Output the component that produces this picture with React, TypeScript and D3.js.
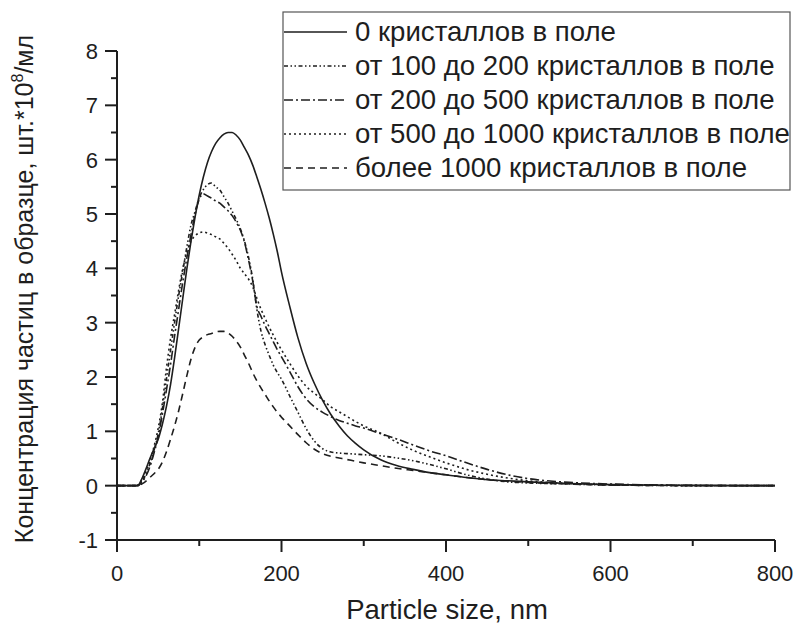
import React from "react";
import * as d3 from "d3";

// Particle size grid (nm)
const SIZES = [0, 20, 25, 30, 35, 40, 45, 50, 55, 60, 65, 70, 75, 80, 85, 90, 95, 100, 105, 110, 115, 120, 125, 130, 135, 140, 145, 150, 155, 160, 165, 170, 175, 180, 185, 190, 195, 200, 210, 220, 230, 240, 250, 260, 270, 280, 290, 300, 320, 340, 360, 380, 400, 425, 450, 475, 500, 550, 600, 650, 700, 800];

// 0 кристаллов в поле
const S_0 = [0, 0, 0, 0.12, 0.3, 0.5, 0.68, 0.85, 1.12, 1.45, 1.85, 2.35, 2.9, 3.45, 4.0, 4.5, 4.95, 5.35, 5.68, 5.95, 6.15, 6.3, 6.4, 6.47, 6.5, 6.5, 6.45, 6.36, 6.22, 6.08, 5.9, 5.68, 5.45, 5.2, 4.93, 4.63, 4.3, 3.93, 3.3, 2.72, 2.25, 1.88, 1.57, 1.31, 1.1, 0.92, 0.78, 0.66, 0.48, 0.37, 0.3, 0.24, 0.2, 0.15, 0.11, 0.09, 0.07, 0.04, 0.02, 0.01, 0.005, 0];
// от 100 до 200
const S_100 = [0, 0, 0, 0.08, 0.2, 0.4, 0.65, 0.95, 1.4, 1.95, 2.48, 3.0, 3.5, 3.95, 4.4, 4.8, 5.05, 5.3, 5.45, 5.54, 5.57, 5.5, 5.44, 5.32, 5.2, 5.05, 4.9, 4.73, 4.5, 4.2, 3.8, 3.25, 2.85, 2.6, 2.4, 2.22, 2.08, 1.96, 1.65, 1.35, 1.05, 0.82, 0.68, 0.62, 0.6, 0.59, 0.58, 0.57, 0.55, 0.51, 0.46, 0.39, 0.31, 0.2, 0.12, 0.07, 0.05, 0.03, 0.01, 0.005, 0, 0];
// от 200 до 500
const S_200 = [0, 0, 0, 0.06, 0.17, 0.35, 0.6, 0.9, 1.3, 1.75, 2.22, 2.75, 3.25, 3.75, 4.2, 4.62, 5.0, 5.27, 5.37, 5.33, 5.29, 5.24, 5.2, 5.13, 5.06, 4.97, 4.85, 4.7, 4.48, 4.15, 3.77, 3.3, 3.12, 2.95, 2.8, 2.65, 2.5, 2.37, 2.1, 1.82, 1.6, 1.45, 1.35, 1.27, 1.2, 1.15, 1.1, 1.06, 0.96, 0.86, 0.75, 0.64, 0.55, 0.42, 0.3, 0.2, 0.13, 0.06, 0.03, 0.015, 0.005, 0];
// от 500 до 1000
const S_500 = [0, 0, 0.01, 0.1, 0.25, 0.45, 0.72, 1.05, 1.5, 2.15, 2.7, 3.15, 3.6, 4.0, 4.3, 4.5, 4.6, 4.65, 4.67, 4.65, 4.62, 4.58, 4.54, 4.46, 4.37, 4.26, 4.14, 4.0, 3.9, 3.8, 3.66, 3.45, 3.25, 3.08, 2.92, 2.77, 2.63, 2.5, 2.25, 2.02, 1.83, 1.7, 1.58, 1.45, 1.36, 1.27, 1.18, 1.1, 0.97, 0.8, 0.65, 0.53, 0.42, 0.3, 0.21, 0.14, 0.09, 0.04, 0.02, 0.01, 0, 0];
// более 1000
const S_1000 = [0, 0, 0, 0.03, 0.08, 0.15, 0.22, 0.3, 0.43, 0.62, 0.85, 1.1, 1.38, 1.7, 2.03, 2.33, 2.55, 2.68, 2.74, 2.78, 2.8, 2.83, 2.84, 2.84, 2.81, 2.75, 2.66, 2.55, 2.4, 2.25, 2.08, 1.93, 1.8, 1.68, 1.56, 1.45, 1.35, 1.26, 1.1, 0.94, 0.79, 0.67, 0.59, 0.54, 0.51, 0.48, 0.45, 0.42, 0.37, 0.32, 0.28, 0.24, 0.2, 0.15, 0.11, 0.08, 0.06, 0.03, 0.01, 0.005, 0, 0];

const LEGEND_LABELS = [
  "0 кристаллов в поле",
  "от 100 до 200 кристаллов в поле",
  "от 200 до 500 кристаллов в поле",
  "от 500 до 1000 кристаллов в поле",
  "более 1000 кристаллов в поле",
];
const X_TICKS = [0, 200, 400, 600, 800];
const X_MINOR = [100, 300, 500, 700];
const Y_TICKS = [-1, 0, 1, 2, 3, 4, 5, 6, 7, 8];
const Y_MINOR = [-0.5, 0.5, 1.5, 2.5, 3.5, 4.5, 5.5, 6.5, 7.5];

const SERIES = [S_0, S_100, S_200, S_500, S_1000];
const DASHES = ["none", "4 2.5 1.5 2.5 1.5 2.5", "9 3 2 3", "2 3", "7 5"];

const FONT = "'Liberation Sans', Arial, Helvetica, sans-serif";
const INK = "#1e1e1e";

export default function App() {
  const x = d3.scaleLinear().domain([0, 800]).range([117, 775]);
  const y = d3.scaleLinear().domain([-1, 8]).range([540, 51]);
  const line = d3
    .line<number>()
    .x((_, i) => x(SIZES[i]))
    .y((d) => y(d))
    .curve(d3.curveMonotoneX);

  const legX = 283;
  const legY = 12;
  const legW = 507;
  const legH = 178;
  const rowBase = (i: number) => 41 + i * 34;

  return (
    <svg
      width={795}
      height={627}
      style={{ position: "absolute", left: 0, top: 0, background: "#fff" }}
      fontFamily={FONT}
    >
      <rect x={0} y={0} width={795} height={627} fill="#fff" />
      {/* curves */}
      {SERIES.map((s, i) => (
        <path
          key={i}
          d={line(s) || ""}
          fill="none"
          stroke={INK}
          strokeWidth={1.6}
          strokeDasharray={DASHES[i]}
        />
      ))}

      {/* Y axis */}
      <line x1={x(0)} x2={x(0)} y1={y(-1)} y2={y(8)} stroke={INK} strokeWidth={2} />
      {Y_TICKS.map((t) => (
        <g key={"yt" + t}>
          <line x1={x(0) - 12} x2={x(0)} y1={y(t)} y2={y(t)} stroke={INK} strokeWidth={2} />
          <text x={98} y={y(t) + 8} fontSize={22} textAnchor="end" fill={INK}>
            {t}
          </text>
        </g>
      ))}
      {Y_MINOR.map((t) => (
        <line key={"ym" + t} x1={x(0) - 6} x2={x(0)} y1={y(t)} y2={y(t)} stroke={INK} strokeWidth={2} />
      ))}

      {/* X axis */}
      <line x1={x(0)} x2={x(800)} y1={y(-1)} y2={y(-1)} stroke={INK} strokeWidth={2} />
      {X_TICKS.map((t) => (
        <g key={"xt" + t}>
          <line x1={x(t)} x2={x(t)} y1={y(-1)} y2={y(-1) + 12} stroke={INK} strokeWidth={2} />
          <text x={x(t)} y={581} fontSize={22} textAnchor="middle" fill={INK}>
            {t}
          </text>
        </g>
      ))}
      {X_MINOR.map((t) => (
        <line key={"xm" + t} x1={x(t)} x2={x(t)} y1={y(-1)} y2={y(-1) + 6} stroke={INK} strokeWidth={2} />
      ))}

      {/* axis titles */}
      <text x={447} y={619} fontSize={27.5} textAnchor="middle" fill={INK}>
        Particle size, nm
      </text>
      <text
        transform="translate(33,289) rotate(-90)"
        fontSize={25}
        textAnchor="middle"
        fill={INK}
      >
        Концентрация частиц в образце, шт.*10
        <tspan dy={-10} fontSize={16}>8</tspan>
        <tspan dy={10}>/мл</tspan>
      </text>

      {/* legend */}
      <rect x={legX} y={legY} width={legW} height={legH} fill="#fff" stroke="#555" strokeWidth={1.2} />
      {LEGEND_LABELS.map((lab, i) => (
        <g key={"lg" + i}>
          <line
            x1={legX + 1}
            x2={347}
            y1={rowBase(i) - 9}
            y2={rowBase(i) - 9}
            stroke={INK}
            strokeWidth={1.6}
            strokeDasharray={DASHES[i]}
          />
          <text x={355} y={rowBase(i)} fontSize={27.6} fill={INK}>
            {lab}
          </text>
        </g>
      ))}
    </svg>
  );
}
